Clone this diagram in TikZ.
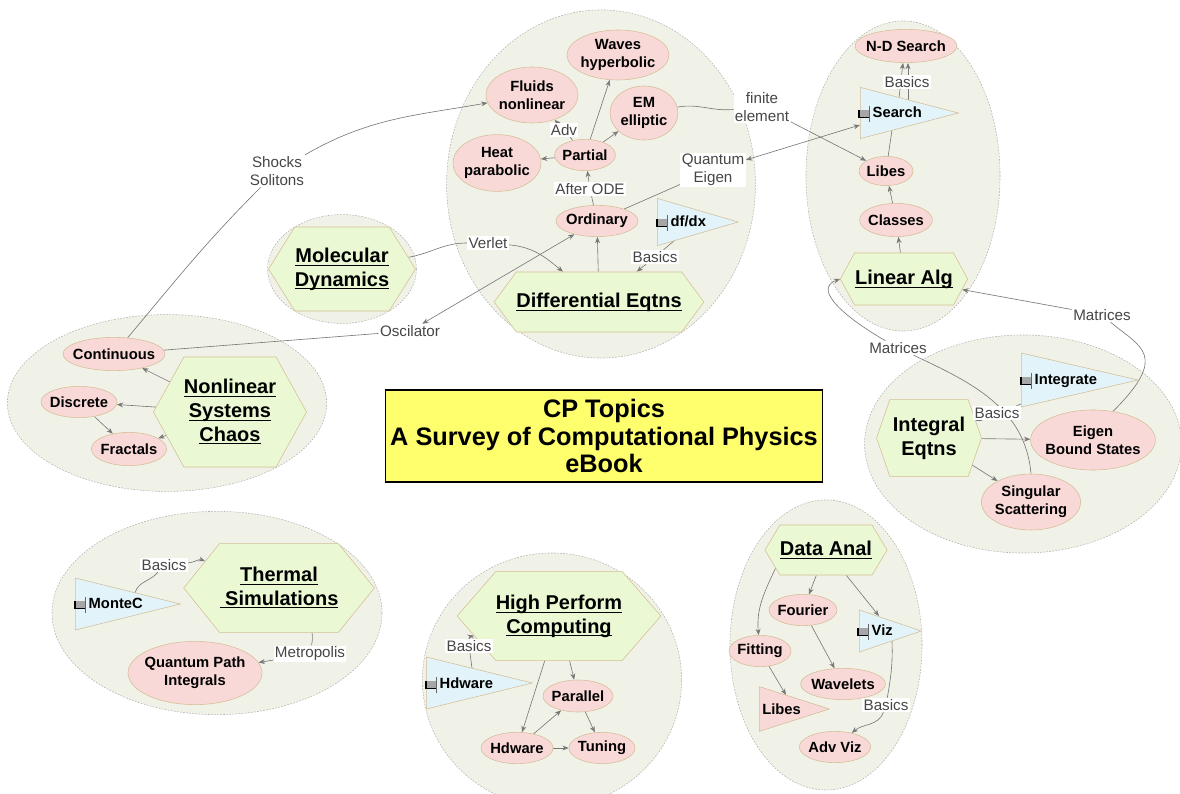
\documentclass[tikz,border=0pt]{standalone}
\usepackage{fontspec}
\setmainfont{Liberation Sans}
\usetikzlibrary{arrows.meta, positioning, shapes.geometric, shapes.symbols, calc}

\definecolor{clusterbg}{RGB}{241,242,231}
\definecolor{hubgreen}{RGB}{234,249,211}
\definecolor{topicpink}{RGB}{249,217,215}
\definecolor{toolblue}{RGB}{226,244,250}
\definecolor{tanline}{RGB}{212,190,150}
\definecolor{connline}{RGB}{120,120,120}
\definecolor{linkgray}{RGB}{70,70,70}
\definecolor{titleyellow}{RGB}{255,255,110}

\pgfdeclarelayer{clusters}
\pgfdeclarelayer{links}
\pgfsetlayers{clusters,links,main}

\newcommand\hubline[1]{\underline{\raisebox{0pt}[\height][0pt]{#1}}}
\newcommand\toolicon{\tikz[x=1pt,y=1pt,baseline=0pt]{\fill[black!35] (0,0) rectangle (7,5);
    \draw[line width=0.9pt] (0,5) -- (0,0) -- (7,0); \draw[black!60, line width=0.4pt] (7.6,-3) -- (7.6,8);}\hspace{2pt}}

\begin{document}
\begin{tikzpicture}[x=0.025cm, y=0.025cm,
            cluster/.style={ellipse, draw=black!30, dash pattern=on 1.2pt off 1pt, fill=clusterbg, inner sep=0pt},
            hub/.style={signal, signal to=west and east, draw=tanline, fill=hubgreen, inner sep=0pt, align=center,
                font=\bfseries\fontsize{14.2}{17}\selectfont},
            topic/.style={ellipse, draw=tanline, fill=topicpink, inner ysep=0pt, inner xsep=-4pt, align=center,
                font=\bfseries\fontsize{10.5}{12.5}\selectfont},
            tool/.style={isosceles triangle, isosceles triangle stretches, draw=tanline, fill=toolblue,
                inner sep=0pt, anchor=west},
            tooltext/.style={anchor=west, inner sep=0pt, font=\bfseries\fontsize{10.5}{12.5}\selectfont},
            link/.style={fill=white, text=linkgray, inner sep=1pt, align=center, font=\fontsize{10.8}{12.8}\selectfont},
            conn/.style={draw=connline, line width=0.45pt, -{Stealth[length=4.5pt, width=3.5pt]}},
            conn2/.style={conn, {Stealth[length=4.5pt, width=3.5pt]}-{Stealth[length=4.5pt, width=3.5pt]}}]

            \useasboundingbox (0,0) rectangle (1180,-794);

            % Topic clusters
            \begin{pgfonlayer}{clusters}
                \node[cluster, minimum width=7.72cm, minimum height=8.7cm] (c-diff) at (601,-184) {};
                \node[cluster, minimum width=4.85cm, minimum height=7.75cm] (c-lin) at (903,-176) {};
                \node[cluster, minimum width=3.72cm, minimum height=2.72cm] (c-md) at (342,-269) {};
                \node[cluster, minimum width=7.98cm, minimum height=4.42cm] (c-non) at (167,-403) {};
                \node[cluster, minimum width=7.92cm, minimum height=5.45cm] (c-int) at (1023,-444) {};
                \node[cluster, minimum width=8.25cm, minimum height=5.08cm] (c-therm) at (217,-613) {};
                \node[cluster, minimum width=6.48cm, minimum height=6.35cm] (c-hpc) at (552,-680) {};
                \node[cluster, minimum width=4.8cm, minimum height=7.25cm] (c-data) at (826,-645) {};
            \end{pgfonlayer}

            % Title
            \node[draw=black, line width=1pt, fill=titleyellow, minimum width=10.75cm, minimum height=2.3cm,
                align=center, font=\bfseries\fontsize{18}{19.5}\selectfont] (title) at (604,-436)
                {CP Topics\\A Survey of Computational Physics\\eBook};

            % Hubs
            \node[hub, minimum width=5.2cm, minimum height=1.5cm, signal pointer angle=107] (diffeq) at (599,-302) {\hubline{Differential Eqtns}};
            \node[hub, minimum width=3.18cm, minimum height=1.3cm, signal pointer angle=123] (linalg) at (904,-279) {\hubline{Linear Alg}};
            \node[hub, minimum width=3.38cm, minimum height=2.1cm, signal pointer angle=116] (moldyn) at (342,-269) {\hubline{Molecular}\\\hubline{Dynamics}};
            \node[hub, minimum width=3.4cm, minimum height=2.75cm, signal pointer angle=122] (nonlin) at (230,-412) {\hubline{Nonlinear}\\\hubline{Systems}\\\hubline{Chaos}};
            \node[hub, minimum width=2.62cm, minimum height=1.92cm, signal pointer angle=142] (integral) at (929,-438) {Integral\\Eqtns};
            \node[hub, minimum width=4.1cm, minimum height=2.22cm, signal pointer angle=102] (thermal) at (279,-588) {\hubline{Thermal}\\\hubline{~Simulations}};
            \node[hub, minimum width=4.35cm, minimum height=2.22cm, signal pointer angle=98] (hpc) at (559,-616) {\hubline{High Perform}\\\hubline{Computing}};
            \node[hub, minimum width=3.05cm, minimum height=1.25cm, signal pointer angle=118] (dataanal) at (826,-550) {\hubline{Data Anal}};

            % Differential Eqtns topics
            \node[topic, minimum width=2.55cm, minimum height=1.25cm] (waves) at (618,-55) {Waves\\hyperbolic};
            \node[topic, minimum width=2.3cm, minimum height=1.4cm] (fluids) at (532,-95) {Fluids\\nonlinear};
            \node[topic, minimum width=1.7cm, minimum height=1.35cm] (em) at (644,-113) {EM\\elliptic};
            \node[topic, minimum width=2.2cm, minimum height=1.42cm] (heat) at (497,-163) {Heat\\parabolic};
            \node[topic, minimum width=1.52cm, minimum height=0.78cm] (partial) at (585,-155) {Partial};
            \node[topic, minimum width=2.05cm, minimum height=0.78cm] (ordinary) at (597,-221) {Ordinary};

            % Linear Alg topics
            \node[topic, minimum width=2.55cm, minimum height=0.83cm] (ndsearch) at (906,-46) {N-D Search};
            \node[topic, minimum width=1.35cm, minimum height=0.73cm] (libes) at (886,-171) {Libes};
            \node[topic, minimum width=1.82cm, minimum height=0.83cm] (classes) at (896,-220) {Classes};

            % Nonlinear topics
            \node[topic, minimum width=2.55cm, minimum height=0.83cm] (continuous) at (114,-354) {Continuous};
            \node[topic, minimum width=1.9cm, minimum height=0.78cm] (discrete) at (79,-402) {Discrete};
            \node[topic, minimum width=1.88cm, minimum height=0.83cm] (fractals) at (129,-449) {Fractals};

            % Integral Eqtns topics
            \node[topic, minimum width=3.12cm, minimum height=1.5cm] (eigen) at (1093,-440) {Eigen\\Bound States};
            \node[topic, minimum width=2.48cm, minimum height=1.4cm] (singular) at (1031,-502) {Singular\\Scattering};

            % Thermal, HPC and Data Anal topics
            \node[topic, minimum width=3.35cm, minimum height=1.58cm] (qpi) at (195,-673) {Quantum Path\\Integrals};
            \node[topic, minimum width=1.75cm, minimum height=0.8cm] (parallel) at (578,-696) {Parallel};
            \node[topic, minimum width=1.8cm, minimum height=0.78cm] (hdware) at (517,-748) {Hdware};
            \node[topic, minimum width=1.65cm, minimum height=0.78cm] (tuning) at (602,-748) {Tuning};
            \node[topic, minimum width=1.7cm, minimum height=0.78cm] (fourier) at (803,-610) {Fourier};
            \node[topic, minimum width=1.55cm, minimum height=0.78cm] (fitting) at (760,-651) {Fitting};
            \node[topic, minimum width=2.12cm, minimum height=0.78cm] (wavelets) at (843,-684) {Wavelets};
            \node[topic, minimum width=1.78cm, minimum height=0.78cm] (advviz) at (835,-747) {Adv Viz};

            % Tools (triangles)
            \node[tool, minimum height=2.45cm, minimum width=1.28cm] (search) at (860,-113) {};
            \node[tool, minimum height=2.02cm, minimum width=1.18cm] (dfdx) at (657,-222) {};
            \node[tool, minimum height=2.92cm, minimum width=1.35cm] (integrate) at (1021,-380) {};
            \node[tool, minimum height=2.62cm, minimum width=1.3cm] (montec) at (75,-604) {};
            \node[tool, minimum height=2.65cm, minimum width=1.3cm] (hdtri) at (426,-683) {};
            \node[tool, minimum height=1.55cm, minimum width=1.05cm] (viz) at (859,-631) {};
            \node[tool, fill=topicpink, minimum height=1.75cm, minimum width=1.12cm] (libtri) at (759,-709) {};
            \node[tooltext] (search-t) at (858,-114) {\toolicon Search};
            \node[tooltext] (dfdx-t) at (656,-223) {\toolicon df/dx};
            \node[tooltext] (integrate-t) at (1020,-381) {\toolicon Integrate};
            \node[tooltext] (montec-t) at (74,-605) {\toolicon MonteC};
            \node[tooltext] (hdtri-t) at (425,-685) {\toolicon Hdware};
            \node[tooltext] (viz-t) at (857,-632) {\toolicon Viz};
            \node[tooltext] (libtri-t) at (762,-709) {Libes};

            % Link phrases
            \node[link] (l-shock) at (277,-171) {Shocks\\Solitons};
            \node[link] (l-osc) at (410,-331) {Oscilator};
            \node[link] (l-verlet) at (488,-243) {Verlet};
            \node[link] (l-quant) at (713,-170) {Quantum\\Eigen};
            \node[link] (l-basd) at (655,-257) {Basics};
            \node[link] (l-finite) at (762,-107) {finite\\element};
            \node[link] (l-ode) at (590,-189) {After ODE};
            \node[link] (l-adv) at (564,-130) {Adv};
            \node[link] (l-bass) at (907,-82) {Basics};
            \node[link] (l-mat1) at (898,-348) {Matrices};
            \node[link] (l-mat2) at (1102,-315) {Matrices};
            \node[link] (l-basi) at (997,-413) {Basics};
            \node[link] (l-basm) at (164,-565) {Basics};
            \node[link] (l-metro) at (310,-654) {Metropolis};
            \node[link] (l-bash) at (469,-646) {Basics};
            \node[link] (l-basv) at (886,-705) {Basics};

            % Connectors
            \begin{pgfonlayer}{links}
                \draw[conn] (diffeq) -- (ordinary);
                \draw[conn] (ordinary) -- (l-ode) -- (partial);
                \draw[conn] (partial) -- (heat);
                \draw[conn] (partial) -- (waves);
                \draw[conn] (partial) -- (em);
                \draw[conn] (partial) -- (l-adv) -- (fluids);
                \draw[conn] ($(dfdx.west)+(18,-18)$) -- (l-basd) -- (diffeq);
                \draw[conn] (moldyn) to[out=10, in=180] (l-verlet) to[out=-5, in=140] (diffeq);
                \draw[conn2] (continuous) -- (l-osc) -- (ordinary);
                \draw[conn2] (ordinary) -- (l-quant) -- ($(search.west)+(0,-12)$);
                \draw[conn] (em) to[out=10, in=185] (l-finite) -- (libes);
                \draw[conn] (continuous) to[out=50, in=225] (l-shock) to[out=30, in=190] (fluids);

                \draw[conn] (linalg) -- (classes);
                \draw[conn] (classes) -- (libes);
                \draw[conn, -] (libes) -- ($(search.west)+(32,-17)$);
                \draw[conn] ($(search.west)+(39,15)$) -- ($(ndsearch.south)+(-3,0)$);
                \draw[conn] ($(search.west)+(48,13)$) -- ($(ndsearch.south)+(2,0)$);
                \draw[conn] (singular.north) to[out=95, in=-25] (l-mat1)
                    .. controls +(150:60) and +(200:30) .. (linalg.west);
                \draw[conn] (eigen.55) .. controls +(45:80) and +(-40:50) .. (l-mat2) -- (linalg);

                \draw[conn] (integral) -- (eigen);
                \draw[conn] (integral) -- (singular);
                \draw[conn] ($(integrate.west)+(0,-24)$) -- (l-basi) -- (integral);

                \draw[conn] (nonlin) -- (continuous);
                \draw[conn] (nonlin) -- (discrete);
                \draw[conn] (nonlin) -- (fractals);
                \draw[conn] (discrete) -- (fractals);

                \draw[conn] ($(montec.west)+(60,11)$) to[out=75, in=-130] (l-basm) to[out=5, in=160] (thermal);
                \draw[conn] ($(thermal.south)+(33,0)$) to[out=-80, in=80] (l-metro) -- (qpi);

                \draw[conn] ($(hdtri.west)+(46,15)$) -- (l-bash) to[out=60, in=193] (hpc);
                \draw[conn] (hpc) -- (parallel);
                \draw[conn] (hpc) -- (hdware);
                \draw[conn] (hdware) -- (parallel);
                \draw[conn] (hdware) -- (tuning);
                \draw[conn] (parallel) -- (tuning);

                \draw[conn] ($(dataanal.west)+(11,-18)$) to[out=-115, in=95] (fitting);
                \draw[conn] (dataanal) -- (fourier);
                \draw[conn] (dataanal) -- ($(viz.west)+(20,15)$);
                \draw[conn] (fourier) -- (wavelets);
                \draw[conn] (fitting) -- ($(libtri.west)+(27,14)$);
                \draw[conn] ($(viz.west)+(33,-10)$) to[out=-88, in=80] (l-basv) to[out=-110, in=40] (advviz);
            \end{pgfonlayer}
        \end{tikzpicture}
\end{document}
